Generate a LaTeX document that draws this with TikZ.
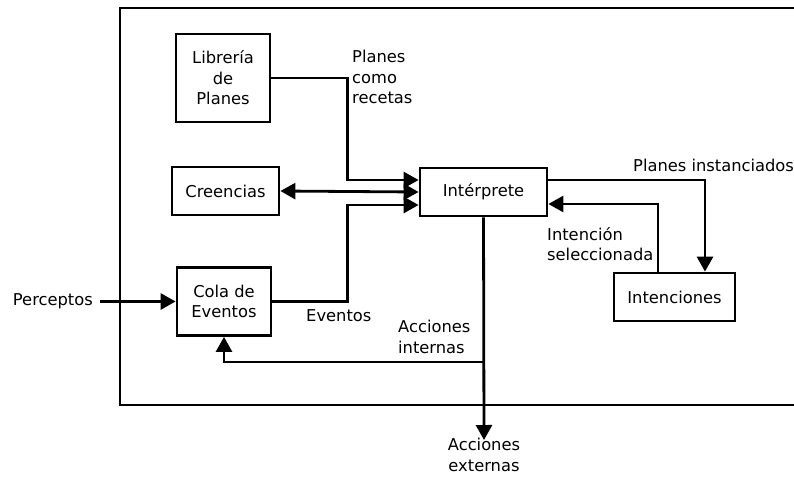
\documentclass[tikz,border=0pt]{standalone}
\usepackage{fontspec}
\setmainfont{DejaVu Sans}
\usetikzlibrary{arrows.meta}
\begin{document}
\begin{tikzpicture}[x=1pt,y=-1pt,
  lw/.style={line width=2.8pt},
  box/.style={lw,draw,rectangle,inner sep=0pt,align=center,font=\fontsize{16.3}{20.5}\selectfont},
  lbl/.style={inner sep=0pt,font=\fontsize{16.3}{20.5}\selectfont},
  tip/.tip={Triangle[length=15pt,width=16pt]},
  conn/.style={lw,-tip},
  bconn/.style={lw,tip-tip}]
  \useasboundingbox (0,0) rectangle (794,479);
  \fill[white] (0,0) rectangle (794,479);

  % agent frame (runs past the right edge)
  \draw[lw] (800,8) -- (120,8) -- (120,405) -- (800,405);

  % components
  \node[box,minimum width=94pt,minimum height=88pt] (lib) at (223,78) {Librería\\de\\Planes};
  \node[box,minimum width=107pt,minimum height=48pt] (bel) at (225.5,191) {Creencias};
  \node[box,minimum width=94pt,minimum height=68pt] (cola) at (224,301.5) {Cola de\\Eventos};
  \node[box,minimum width=127pt,minimum height=48pt] (int) at (483.5,192) {Intérprete};
  \node[box,minimum width=121pt,minimum height=48pt] (inten) at (674.5,297) {Intenciones};

  % labels
  \node[lbl,anchor=west,align=left] at (352,77) {Planes\\como\\recetas};
  \node[lbl,anchor=west] at (633,165) {Planes instanciados};
  \node[lbl,anchor=west,align=left] at (547,244) {Intención\\seleccionada};
  \node[lbl,anchor=west] at (306,316) {Eventos};
  \node[lbl,anchor=west,align=left] at (398,337) {Acciones\\internas};
  \node[lbl,anchor=east] (perc) at (93,301.5) {Perceptos};

  \coordinate (ext) at (484,440);
  \coordinate (split) at (484,362);
  \node[lbl,anchor=north,align=center] at (484,438) {Acciones\\externas};

  % connectors
  \draw[conn] (lib.east) -- ++(76,0) |- ([yshift=12pt]int.west);
  \draw[bconn] (bel.east) -- (int.west);
  \draw[conn] (cola.east) -- ++(75,0) |- ([yshift=-13pt]int.west);
  \draw[conn] ([xshift=7pt]perc.east) -- (cola.west);
  \draw[conn] ([yshift=12pt]int.east) -| ([xshift=30.5pt]inten.north);
  \draw[conn] ([xshift=-16.5pt]inten.north) |- ([yshift=-12pt]int.east);
  \draw[conn] (int.south) -- (ext);
  \draw[conn] (split) -| (cola.south);
\end{tikzpicture}
\end{document}
